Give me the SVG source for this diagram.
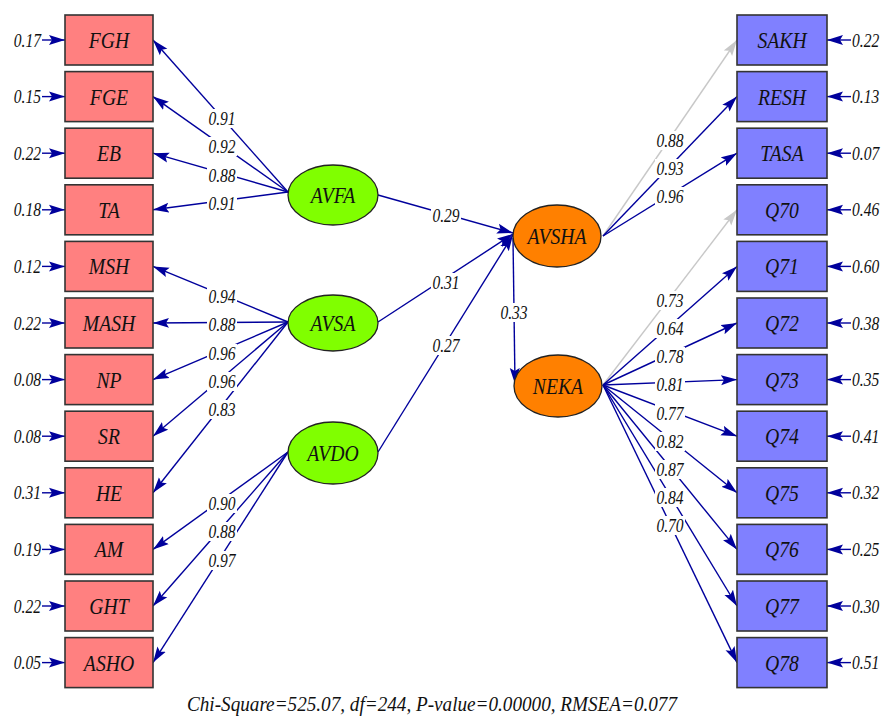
<svg xmlns="http://www.w3.org/2000/svg" width="882" height="718" viewBox="0 0 882 718">
<defs>
<marker id="ab" markerUnits="userSpaceOnUse" markerWidth="17" markerHeight="11" refX="16" refY="5.5" orient="auto"><path d="M0,0.5 L16,5.5 L0,10.5 L3,5.5 z" fill="#00009c"/></marker>
<marker id="ag" markerUnits="userSpaceOnUse" markerWidth="17" markerHeight="11" refX="16" refY="5.5" orient="auto"><path d="M0,0.5 L16,5.5 L0,10.5 L3,5.5 z" fill="#c8c8c8"/></marker>
<style>
.bl{fill:#ff8080;stroke:#333;stroke-width:1.6}
.br{fill:#8080ff;stroke:#333;stroke-width:1.6}
.lg{fill:#80ff00;stroke:#222;stroke-width:1.3}
.lo{fill:#ff8000;stroke:#222;stroke-width:1.3}
.t{font-family:"Liberation Serif",serif;font-style:italic;font-size:24px;fill:#111;text-anchor:middle}
.n{font-family:"Liberation Serif",serif;font-style:italic;font-size:19px;fill:#111;text-anchor:middle}
.e{font-family:"Liberation Serif",serif;font-style:italic;font-size:19px;fill:#111}
.c{stroke:#00009c;stroke-width:1.4;fill:none;marker-end:url(#ab)}
.g{stroke:#c8c8c8;stroke-width:1.4;fill:none;marker-end:url(#ag)}
.w{fill:#fff}
</style>
<rect id="lb" class="w" x="-15" y="-16" width="30" height="19"/>
</defs>
<g id="connectors">
<line class="c" x1="288" y1="192" x2="153" y2="40"/>
<line class="c" x1="288" y1="192" x2="153" y2="96.6"/>
<line class="c" x1="288" y1="192" x2="153" y2="153.2"/>
<line class="c" x1="288" y1="192" x2="153" y2="209.8"/>
<line class="c" x1="288" y1="322" x2="153" y2="266.4"/>
<line class="c" x1="288" y1="322" x2="153" y2="323"/>
<line class="c" x1="288" y1="322" x2="153" y2="379.6"/>
<line class="c" x1="288" y1="322" x2="153" y2="436.2"/>
<line class="c" x1="288" y1="322" x2="153" y2="492.8"/>
<line class="c" x1="288" y1="452" x2="153" y2="549.4"/>
<line class="c" x1="288" y1="452" x2="153" y2="606"/>
<line class="c" x1="288" y1="452" x2="153" y2="662.6"/>
<line class="c" x1="378" y1="195" x2="513" y2="233"/>
<line class="c" x1="378" y1="322" x2="513" y2="234"/>
<line class="c" x1="378" y1="452" x2="513" y2="235"/>
<line class="c" x1="513" y1="238" x2="515" y2="384"/>
<line class="g" x1="603" y1="236" x2="737" y2="40"/>
<line class="c" x1="603" y1="236" x2="737" y2="96.6"/>
<line class="c" x1="603" y1="236" x2="737" y2="153.2"/>
<line class="g" x1="603" y1="385" x2="737" y2="209.8"/>
<line class="c" x1="603" y1="385" x2="737" y2="266.4"/>
<line class="c" x1="603" y1="385" x2="737" y2="323"/>
<line class="c" x1="603" y1="385" x2="737" y2="379.6"/>
<line class="c" x1="603" y1="385" x2="737" y2="436.2"/>
<line class="c" x1="603" y1="385" x2="737" y2="492.8"/>
<line class="c" x1="603" y1="385" x2="737" y2="549.4"/>
<line class="c" x1="603" y1="385" x2="737" y2="606"/>
<line class="c" x1="603" y1="385" x2="737" y2="662.6"/>
<line class="c" x1="42" y1="40" x2="65" y2="40"/>
<line class="c" x1="42" y1="96.6" x2="65" y2="96.6"/>
<line class="c" x1="42" y1="153.2" x2="65" y2="153.2"/>
<line class="c" x1="42" y1="209.8" x2="65" y2="209.8"/>
<line class="c" x1="42" y1="266.4" x2="65" y2="266.4"/>
<line class="c" x1="42" y1="323" x2="65" y2="323"/>
<line class="c" x1="42" y1="379.6" x2="65" y2="379.6"/>
<line class="c" x1="42" y1="436.2" x2="65" y2="436.2"/>
<line class="c" x1="42" y1="492.8" x2="65" y2="492.8"/>
<line class="c" x1="42" y1="549.4" x2="65" y2="549.4"/>
<line class="c" x1="42" y1="606" x2="65" y2="606"/>
<line class="c" x1="42" y1="662.6" x2="65" y2="662.6"/>
<line class="c" x1="851" y1="40" x2="827" y2="40"/>
<line class="c" x1="851" y1="96.6" x2="827" y2="96.6"/>
<line class="c" x1="851" y1="153.2" x2="827" y2="153.2"/>
<line class="c" x1="851" y1="209.8" x2="827" y2="209.8"/>
<line class="c" x1="851" y1="266.4" x2="827" y2="266.4"/>
<line class="c" x1="851" y1="323" x2="827" y2="323"/>
<line class="c" x1="851" y1="379.6" x2="827" y2="379.6"/>
<line class="c" x1="851" y1="436.2" x2="827" y2="436.2"/>
<line class="c" x1="851" y1="492.8" x2="827" y2="492.8"/>
<line class="c" x1="851" y1="549.4" x2="827" y2="549.4"/>
<line class="c" x1="851" y1="606" x2="827" y2="606"/>
<line class="c" x1="851" y1="662.6" x2="827" y2="662.6"/>
<g id="label-backs">
<use href="#lb" x="222" y="125"/><use href="#lb" x="222" y="153"/><use href="#lb" x="222" y="182"/><use href="#lb" x="222" y="210"/>
<use href="#lb" x="222" y="303"/><use href="#lb" x="222" y="331"/><use href="#lb" x="222" y="360"/><use href="#lb" x="222" y="388"/><use href="#lb" x="222" y="416"/>
<use href="#lb" x="222" y="510"/><use href="#lb" x="222" y="538"/><use href="#lb" x="222" y="567"/>
<use href="#lb" x="446" y="222"/><use href="#lb" x="446" y="289"/><use href="#lb" x="446" y="352"/><use href="#lb" x="514" y="319"/>
<use href="#lb" x="670" y="147"/><use href="#lb" x="670" y="175"/><use href="#lb" x="670" y="203"/>
<use href="#lb" x="670" y="307"/><use href="#lb" x="670" y="335"/><use href="#lb" x="670" y="363"/><use href="#lb" x="670" y="391"/><use href="#lb" x="670" y="420"/>
<use href="#lb" x="670" y="448"/><use href="#lb" x="670" y="476"/><use href="#lb" x="670" y="504"/><use href="#lb" x="670" y="532"/>
</g>
<text class="n" transform="translate(222,125) scale(.82,1)">0.91</text>
<text class="n" transform="translate(222,153) scale(.82,1)">0.92</text>
<text class="n" transform="translate(222,182) scale(.82,1)">0.88</text>
<text class="n" transform="translate(222,210) scale(.82,1)">0.91</text>
<text class="n" transform="translate(222,303) scale(.82,1)">0.94</text>
<text class="n" transform="translate(222,331) scale(.82,1)">0.88</text>
<text class="n" transform="translate(222,360) scale(.82,1)">0.96</text>
<text class="n" transform="translate(222,388) scale(.82,1)">0.96</text>
<text class="n" transform="translate(222,416) scale(.82,1)">0.83</text>
<text class="n" transform="translate(222,510) scale(.82,1)">0.90</text>
<text class="n" transform="translate(222,538) scale(.82,1)">0.88</text>
<text class="n" transform="translate(222,567) scale(.82,1)">0.97</text>
<text class="n" transform="translate(446,222) scale(.82,1)">0.29</text>
<text class="n" transform="translate(446,289) scale(.82,1)">0.31</text>
<text class="n" transform="translate(446,352) scale(.82,1)">0.27</text>
<text class="n" transform="translate(514,319) scale(.82,1)">0.33</text>
<text class="n" transform="translate(670,147) scale(.82,1)">0.88</text>
<text class="n" transform="translate(670,175) scale(.82,1)">0.93</text>
<text class="n" transform="translate(670,203) scale(.82,1)">0.96</text>
<text class="n" transform="translate(670,307) scale(.82,1)">0.73</text>
<text class="n" transform="translate(670,335) scale(.82,1)">0.64</text>
<text class="n" transform="translate(670,363) scale(.82,1)">0.78</text>
<text class="n" transform="translate(670,391) scale(.82,1)">0.81</text>
<text class="n" transform="translate(670,420) scale(.82,1)">0.77</text>
<text class="n" transform="translate(670,448) scale(.82,1)">0.82</text>
<text class="n" transform="translate(670,476) scale(.82,1)">0.87</text>
<text class="n" transform="translate(670,504) scale(.82,1)">0.84</text>
<text class="n" transform="translate(670,532) scale(.82,1)">0.70</text>
</g>
<g id="errors-left" text-anchor="end">
<text class="e" transform="translate(41,46.5) scale(.82,1)">0.17</text>
<text class="e" transform="translate(41,103.1) scale(.82,1)">0.15</text>
<text class="e" transform="translate(41,159.7) scale(.82,1)">0.22</text>
<text class="e" transform="translate(41,216.3) scale(.82,1)">0.18</text>
<text class="e" transform="translate(41,272.9) scale(.82,1)">0.12</text>
<text class="e" transform="translate(41,329.5) scale(.82,1)">0.22</text>
<text class="e" transform="translate(41,386.1) scale(.82,1)">0.08</text>
<text class="e" transform="translate(41,442.7) scale(.82,1)">0.08</text>
<text class="e" transform="translate(41,499.3) scale(.82,1)">0.31</text>
<text class="e" transform="translate(41,555.9) scale(.82,1)">0.19</text>
<text class="e" transform="translate(41,612.5) scale(.82,1)">0.22</text>
<text class="e" transform="translate(41,669.1) scale(.82,1)">0.05</text>
</g>
<g id="errors-right">
<text class="e" transform="translate(852,46.5) scale(.82,1)">0.22</text>
<text class="e" transform="translate(852,103.1) scale(.82,1)">0.13</text>
<text class="e" transform="translate(852,159.7) scale(.82,1)">0.07</text>
<text class="e" transform="translate(852,216.3) scale(.82,1)">0.46</text>
<text class="e" transform="translate(852,272.9) scale(.82,1)">0.60</text>
<text class="e" transform="translate(852,329.5) scale(.82,1)">0.38</text>
<text class="e" transform="translate(852,386.1) scale(.82,1)">0.35</text>
<text class="e" transform="translate(852,442.7) scale(.82,1)">0.41</text>
<text class="e" transform="translate(852,499.3) scale(.82,1)">0.32</text>
<text class="e" transform="translate(852,555.9) scale(.82,1)">0.25</text>
<text class="e" transform="translate(852,612.5) scale(.82,1)">0.30</text>
<text class="e" transform="translate(852,669.1) scale(.82,1)">0.51</text>
</g>
<g id="FGH"><rect class="bl" x="65" y="15" width="88" height="50"/><text class="t" transform="translate(109,48) scale(.82,1)">FGH</text></g>
<g id="FGE"><rect class="bl" x="65" y="71.6" width="88" height="50"/><text class="t" transform="translate(109,104.6) scale(.82,1)">FGE</text></g>
<g id="EB"><rect class="bl" x="65" y="128.2" width="88" height="50"/><text class="t" transform="translate(109,161.2) scale(.82,1)">EB</text></g>
<g id="TA"><rect class="bl" x="65" y="184.8" width="88" height="50"/><text class="t" transform="translate(109,217.8) scale(.82,1)">TA</text></g>
<g id="MSH"><rect class="bl" x="65" y="241.4" width="88" height="50"/><text class="t" transform="translate(109,274.4) scale(.82,1)">MSH</text></g>
<g id="MASH"><rect class="bl" x="65" y="298" width="88" height="50"/><text class="t" transform="translate(109,331) scale(.82,1)">MASH</text></g>
<g id="NP"><rect class="bl" x="65" y="354.6" width="88" height="50"/><text class="t" transform="translate(109,387.6) scale(.82,1)">NP</text></g>
<g id="SR"><rect class="bl" x="65" y="411.2" width="88" height="50"/><text class="t" transform="translate(109,444.2) scale(.82,1)">SR</text></g>
<g id="HE"><rect class="bl" x="65" y="467.8" width="88" height="50"/><text class="t" transform="translate(109,500.8) scale(.82,1)">HE</text></g>
<g id="AM"><rect class="bl" x="65" y="524.4" width="88" height="50"/><text class="t" transform="translate(109,557.4) scale(.82,1)">AM</text></g>
<g id="GHT"><rect class="bl" x="65" y="581" width="88" height="50"/><text class="t" transform="translate(109,614) scale(.82,1)">GHT</text></g>
<g id="ASHO"><rect class="bl" x="65" y="637.6" width="88" height="50"/><text class="t" transform="translate(109,670.6) scale(.82,1)">ASHO</text></g>
<g id="SAKH"><rect class="br" x="737" y="15" width="90" height="50"/><text class="t" transform="translate(782,48) scale(.82,1)">SAKH</text></g>
<g id="RESH"><rect class="br" x="737" y="71.6" width="90" height="50"/><text class="t" transform="translate(782,104.6) scale(.82,1)">RESH</text></g>
<g id="TASA"><rect class="br" x="737" y="128.2" width="90" height="50"/><text class="t" transform="translate(782,161.2) scale(.82,1)">TASA</text></g>
<g id="Q70"><rect class="br" x="737" y="184.8" width="90" height="50"/><text class="t" transform="translate(782,217.8) scale(.82,1)">Q70</text></g>
<g id="Q71"><rect class="br" x="737" y="241.4" width="90" height="50"/><text class="t" transform="translate(782,274.4) scale(.82,1)">Q71</text></g>
<g id="Q72"><rect class="br" x="737" y="298" width="90" height="50"/><text class="t" transform="translate(782,331) scale(.82,1)">Q72</text></g>
<g id="Q73"><rect class="br" x="737" y="354.6" width="90" height="50"/><text class="t" transform="translate(782,387.6) scale(.82,1)">Q73</text></g>
<g id="Q74"><rect class="br" x="737" y="411.2" width="90" height="50"/><text class="t" transform="translate(782,444.2) scale(.82,1)">Q74</text></g>
<g id="Q75"><rect class="br" x="737" y="467.8" width="90" height="50"/><text class="t" transform="translate(782,500.8) scale(.82,1)">Q75</text></g>
<g id="Q76"><rect class="br" x="737" y="524.4" width="90" height="50"/><text class="t" transform="translate(782,557.4) scale(.82,1)">Q76</text></g>
<g id="Q77"><rect class="br" x="737" y="581" width="90" height="50"/><text class="t" transform="translate(782,614) scale(.82,1)">Q77</text></g>
<g id="Q78"><rect class="br" x="737" y="637.6" width="90" height="50"/><text class="t" transform="translate(782,670.6) scale(.82,1)">Q78</text></g>
<g id="AVFA"><ellipse class="lg" cx="333" cy="195" rx="45" ry="30"/><text class="t" transform="translate(333,203) scale(.82,1)">AVFA</text></g>
<g id="AVSA"><ellipse class="lg" cx="333" cy="323" rx="45" ry="28"/><text class="t" transform="translate(333,331) scale(.82,1)">AVSA</text></g>
<g id="AVDO"><ellipse class="lg" cx="333" cy="453" rx="45" ry="31"/><text class="t" transform="translate(333,461) scale(.82,1)">AVDO</text></g>
<g id="AVSHA"><ellipse class="lo" cx="557" cy="236" rx="44" ry="31"/><text class="t" transform="translate(557,244) scale(.82,1)">AVSHA</text></g>
<g id="NEKA"><ellipse class="lo" cx="558" cy="386" rx="44" ry="31"/><text class="t" transform="translate(558,394) scale(.82,1)">NEKA</text></g>
<text x="432" y="711" font-family="Liberation Serif, serif" font-style="italic" font-size="20" fill="#111" text-anchor="middle" textLength="490" lengthAdjust="spacingAndGlyphs">Chi-Square=525.07, df=244, P-value=0.00000, RMSEA=0.077</text>
</svg>
